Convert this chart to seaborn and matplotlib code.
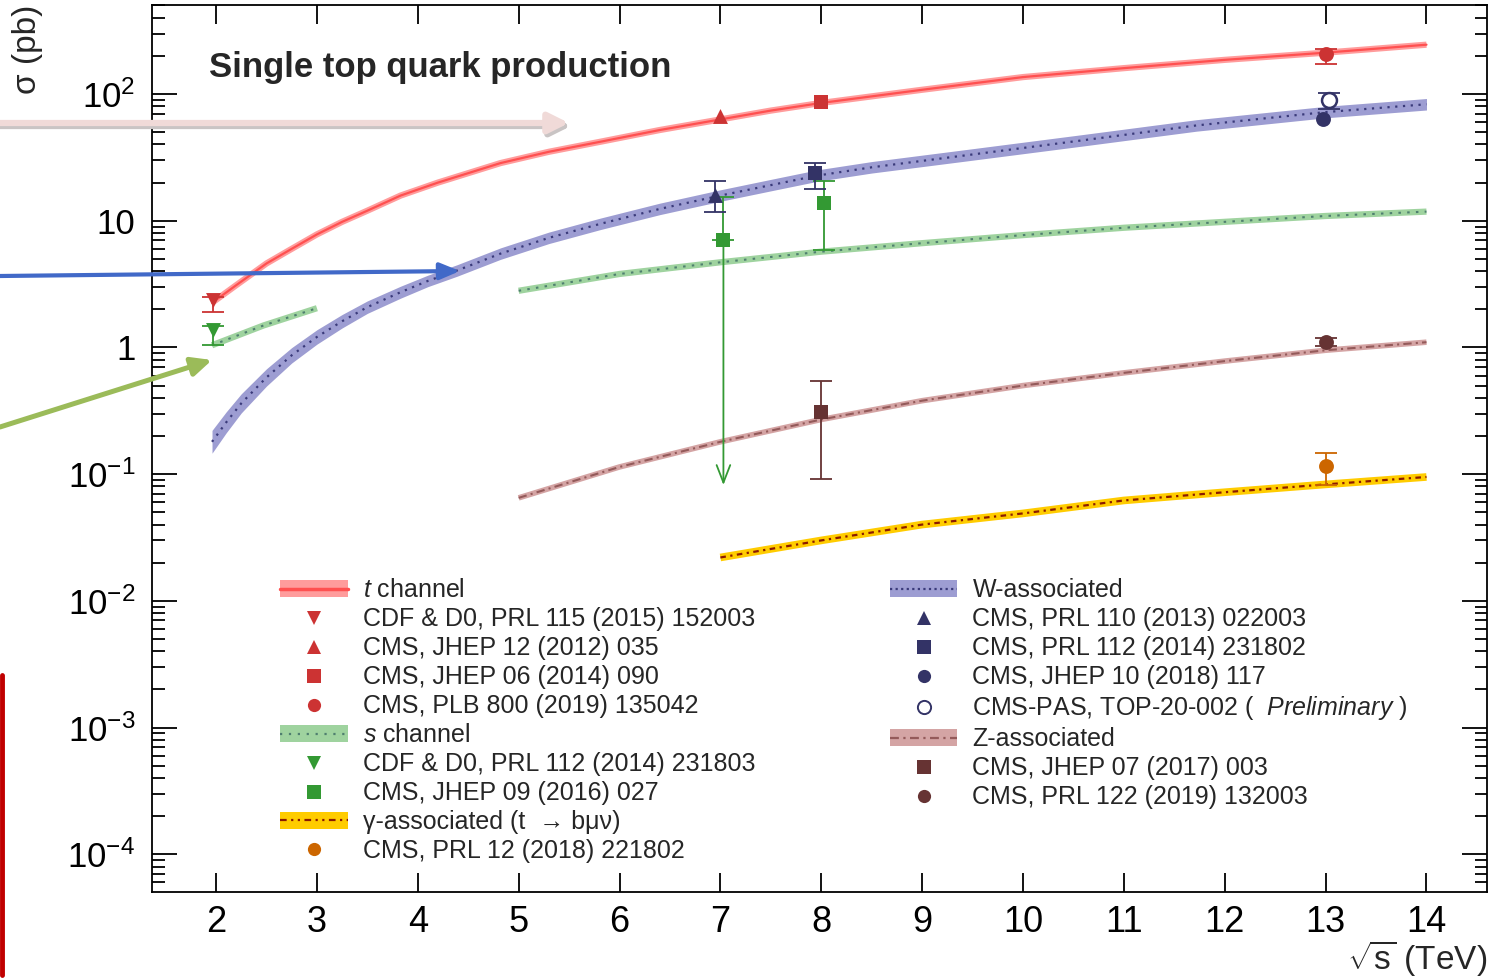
import numpy as np
import pandas as pd
import matplotlib
matplotlib.use("Agg")
import matplotlib.pyplot as plt
import seaborn as sns
from matplotlib.patches import Patch
from matplotlib.lines import Line2D
from matplotlib.ticker import FixedLocator, FixedFormatter, LogLocator, NullFormatter, NullLocator

# ------------------------------------------------------------------ data
# theory curves: sqrt(s) in TeV, cross section in pb
t_sqrts = [1.96, 2.2, 2.5, 2.75, 3.0, 3.25, 3.5, 3.83, 4.2, 4.82, 5.3, 5.81, 6.4, 7.0, 7.5, 8.0,
           9.0, 10.0, 11.0, 12.0, 13.0, 14.0]
t_xsec = [2.25, 3.1, 4.6, 6.0, 7.8, 9.8, 12.0, 15.8, 20.0, 28.5, 35.0, 42.0, 52.0, 63.0, 74.0, 85.0,
          108.0, 136.0, 160.0, 186.0, 212.0, 245.0]

w_sqrts = [1.96, 2.1, 2.25, 2.5, 2.75, 3.0, 3.25, 3.5, 3.83, 4.1, 4.39, 4.82, 5.3, 5.81, 6.4, 7.0,
           7.5, 7.96, 8.5, 9.43, 10.58, 11.72, 13.0, 14.0]
w_xsec = [0.18, 0.256, 0.362, 0.58, 0.867, 1.21, 1.61, 2.08, 2.73, 3.35, 4.05, 5.5, 7.33, 9.45, 12.4, 15.8,
          19.1, 22.7, 26.4, 32.8, 43.0, 56.5, 72.0, 83.0]
w_unc = [0.23, 0.21, 0.19, 0.17, 0.15, 0.14, 0.13, 0.12, 0.115, 0.11, 0.11, 0.11, 0.11, 0.11, 0.11, 0.11,
         0.11, 0.11, 0.11, 0.11, 0.11, 0.11, 0.11, 0.11]

s_sqrts_low = [1.96, 2.47, 3.0]
s_xsec_low = [1.04, 1.49, 2.04]
s_sqrts = [5.0, 6.0, 7.0, 8.0, 9.0, 10.0, 11.0, 12.0, 13.0, 14.0]
s_xsec = [2.8, 3.8, 4.7, 5.7, 6.65, 7.7, 8.8, 9.8, 10.9, 11.8]

z_sqrts = [5.0, 6.0, 7.0, 8.0, 9.0, 10.0, 11.0, 12.0, 13.0, 14.0]
z_xsec = [0.065, 0.114, 0.18, 0.27, 0.38, 0.50, 0.63, 0.78, 0.95, 1.1]

g_sqrts = [7.0, 8.0, 9.0, 10.0, 11.0, 12.0, 13.0, 14.0]
g_xsec = [0.022, 0.030, 0.040, 0.049, 0.062, 0.072, 0.083, 0.095]

# measurements
meas_ref = [
    "CDF & D0, PRL 115 (2015) 152003",
    "CMS, JHEP 12 (2012) 035",
    "CMS, JHEP 06 (2014) 090",
    "CMS, PLB 800 (2019) 135042",
    "CDF & D0, PRL 112 (2014) 231803",
    "CMS, JHEP 09 (2016) 027",
    "CMS, JHEP 09 (2016) 027",
    "CMS, PRL 12 (2018) 221802",
    "CMS, PRL 110 (2013) 022003",
    "CMS, PRL 112 (2014) 231802",
    "CMS, JHEP 10 (2018) 117",
    "CMS-PAS, TOP-20-002 ( Preliminary )",
    "CMS, JHEP 07 (2017) 003",
    "CMS, PRL 122 (2019) 132003",
]
meas_process = ["t", "t", "t", "t", "s", "s", "s", "gamma", "W", "W", "W", "W", "Z", "Z"]
meas_sqrts = [1.97, 7.0, 8.0, 13.0, 1.97, 7.03, 8.03, 13.0, 6.95, 7.94, 12.97, 13.03, 8.0, 13.0]
meas_xsec = [2.35, 67.0, 86.0, 207.0, 1.38, 7.1, 13.8, 0.116, 16.0, 24.0, 63.0, 89.0, 0.31, 1.1]
meas_err_up = [0.15, 0.0, 0.0, 18.0, 0.1, 8.2, 6.9, 0.032, 4.7, 4.7, 0.0, 12.0, 0.23, 0.08]
meas_err_dn = [0.43, 0.0, 0.0, 34.0, 0.34, 7.1, 7.9, 0.034, 4.2, 6.1, 0.0, 12.4, 0.218, 0.08]

ytick_vals = [1e-4, 1e-3, 1e-2, 1e-1, 1, 10, 100]
ytick_labels = [r"$10^{-4}$", r"$10^{-3}$", r"$10^{-2}$", r"$10^{-1}$", "1", "10", r"$10^{2}$"]
xtick_vals = [2, 3, 4, 5, 6, 7, 8, 9, 10, 11, 12, 13, 14]

# ------------------------------------------------------------------ style
sns.set_theme(style="ticks")
plt.rcParams["font.family"] = ["Liberation Sans", "DejaVu Sans"]
plt.rcParams["mathtext.fontset"] = "custom"
plt.rcParams["mathtext.rm"] = "Liberation Sans"
plt.rcParams["mathtext.it"] = "Liberation Sans:italic"
plt.rcParams["mathtext.bf"] = "Liberation Sans:bold"
plt.rcParams["mathtext.sf"] = "Liberation Sans"
plt.rcParams["axes.unicode_minus"] = True

C_T_BAND, C_T_LINE, C_T_MK = "#ff9c9c", "#ff5050", "#cc3333"
C_W_BAND, C_W_LINE, C_W_MK = "#9d9dd2", "#3a3a7a", "#333366"
C_S_BAND, C_S_LINE, C_S_MK = "#9fd39f", "#4f7f6f", "#339933"
C_Z_BAND, C_Z_LINE, C_Z_MK = "#d4a4a4", "#945a5a", "#663333"
C_G_BAND, C_G_LINE, C_G_MK = "#ffcc00", "#8b1a00", "#cc6600"

fig = plt.figure(figsize=(14.99, 9.8), dpi=100)
ax = fig.add_axes([152 / 1499, 1 - 892 / 980, (1487 - 152) / 1499, (892 - 5) / 980])
ax.set_yscale("log")
ax.set_xlim(1.365, 14.6)
ax.set_ylim(5.04e-5, 504)


def band(xs, ys, band_color, band_lw, line_color, line_lw, ls):
    sns.lineplot(x=xs, y=ys, ax=ax, color=band_color, lw=band_lw, zorder=2)
    ax.lines[-1].set_solid_capstyle("butt")
    ax.lines[-1].set_solid_joinstyle("round")
    sns.lineplot(x=xs, y=ys, ax=ax, color=line_color, lw=line_lw, zorder=3)
    ax.lines[-1].set_linestyle(ls)


# W band with width
w_lo = [y / (1 + u) for y, u in zip(w_xsec, w_unc)]
w_hi = [y * (1 + u) for y, u in zip(w_xsec, w_unc)]
ax.fill_between(w_sqrts, w_lo, w_hi, color=C_W_BAND, lw=0, zorder=2)
sns.lineplot(x=w_sqrts, y=w_xsec, ax=ax, color=C_W_LINE, lw=1.6, zorder=3)
ax.lines[-1].set_linestyle((0, (1, 2.5)))

band(t_sqrts, t_xsec, C_T_BAND, 4.5, C_T_LINE, 1.6, "-")
band(s_sqrts_low, s_xsec_low, C_S_BAND, 4.5, C_S_LINE, 1.5, (0, (1.2, 3)))
band(s_sqrts, s_xsec, C_S_BAND, 4.5, C_S_LINE, 1.5, (0, (1.2, 3)))
band(z_sqrts, z_xsec, C_Z_BAND, 4.0, C_Z_LINE, 1.5, (0, (4, 2, 1, 2)))
band(g_sqrts, g_xsec, C_G_BAND, 5.5, C_G_LINE, 1.6, (0, (2.5, 2, 1, 2)))

# ------------------------------------------------------------------ measurements
meas = pd.DataFrame({
    "ref": meas_ref, "process": meas_process, "sqrts": meas_sqrts,
    "xsec": meas_xsec, "up": meas_err_up, "dn": meas_err_dn,
})
marker_of = {
    "CDF & D0, PRL 115 (2015) 152003": ("v", C_T_MK, True),
    "CMS, JHEP 12 (2012) 035": ("^", C_T_MK, True),
    "CMS, JHEP 06 (2014) 090": ("s", C_T_MK, True),
    "CMS, PLB 800 (2019) 135042": ("o", C_T_MK, True),
    "CDF & D0, PRL 112 (2014) 231803": ("v", C_S_MK, True),
    "CMS, JHEP 09 (2016) 027": ("s", C_S_MK, True),
    "CMS, PRL 12 (2018) 221802": ("o", C_G_MK, True),
    "CMS, PRL 110 (2013) 022003": ("^", C_W_MK, True),
    "CMS, PRL 112 (2014) 231802": ("s", C_W_MK, True),
    "CMS, JHEP 10 (2018) 117": ("o", C_W_MK, True),
    "CMS-PAS, TOP-20-002 ( Preliminary )": ("o", C_W_MK, False),
    "CMS, JHEP 07 (2017) 003": ("s", C_Z_MK, True),
    "CMS, PRL 122 (2019) 132003": ("o", C_Z_MK, True),
}
arrow_floor = 0.082
for _, r in meas.iterrows():
    mk, col, filled = marker_of[r["ref"]]
    lo = r["xsec"] - r["dn"]
    if lo <= 0:
        ax.errorbar([r["sqrts"]], [r["xsec"]], yerr=[[0], [r["up"]]], fmt="none",
                    ecolor=col, elinewidth=1.3, capsize=8, capthick=1.3, zorder=4)
        ax.annotate("", xy=(r["sqrts"], arrow_floor), xytext=(r["sqrts"], r["xsec"]),
                    arrowprops=dict(arrowstyle="->,head_length=0.9,head_width=0.35",
                                    color=col, lw=1.3, shrinkA=0, shrinkB=0, mutation_scale=14),
                    zorder=4)
    elif r["up"] > 0 or r["dn"] > 0:
        ax.errorbar([r["sqrts"]], [r["xsec"]], yerr=[[r["dn"]], [r["up"]]], fmt="none",
                    ecolor=col, elinewidth=1.3, capsize=8, capthick=1.3, zorder=4)
    sns.scatterplot(x=[r["sqrts"]], y=[r["xsec"]], ax=ax, marker=mk, s=115,
                    color=col if filled else "white", edgecolor=col,
                    linewidth=0 if filled else 1.8, zorder=5)

# ------------------------------------------------------------------ axes
ax.xaxis.set_major_locator(FixedLocator(xtick_vals))
ax.xaxis.set_major_formatter(FixedFormatter([str(v) for v in xtick_vals]))
ax.xaxis.set_minor_locator(NullLocator())
ax.yaxis.set_major_locator(FixedLocator(ytick_vals))
ax.yaxis.set_major_formatter(FixedFormatter(ytick_labels))
ax.yaxis.set_minor_locator(LogLocator(base=10, subs=np.arange(2, 10), numticks=30))
ax.yaxis.set_minor_formatter(NullFormatter())

ax.tick_params(axis="both", which="both", direction="in", top=True, right=True,
               width=1.3, colors="black")
ax.tick_params(axis="x", which="major", length=14, labelsize=26, pad=9)
ax.tick_params(axis="y", which="major", length=18, labelsize=25, pad=12)
ax.tick_params(axis="y", which="minor", length=9)
for sp in ax.spines.values():
    sp.set_linewidth(1.3)
    sp.set_color("black")

ax.set_xlabel(r"$\sqrt{\mathrm{s}}$ (TeV)", fontsize=24, loc="right")
ax.xaxis.set_label_coords(1.0, -0.052)
ax.xaxis.label.set_va("top")
ax.set_ylabel("σ (pb)", fontsize=24, loc="top")
ax.yaxis.set_label_coords(-0.082, 1.0)

ax.text(0.0427, 0.929, "Single top quark production", transform=ax.transAxes,
        fontsize=25, fontweight="bold", ha="left", va="center")

# ------------------------------------------------------------------ legends
def band_handle(bc, lc, ls, lw=1.6):
    return (Patch(facecolor=bc, edgecolor="none"),
            Line2D([], [], color=lc, lw=lw, linestyle=ls))


def mk_handle(ref):
    mk, col, filled = marker_of[ref]
    return Line2D([], [], ls="none", marker=mk, markersize=9.5,
                  markerfacecolor=col if filled else "white", markeredgecolor=col,
                  markeredgewidth=0 if filled else 1.4)


left_handles = [band_handle(C_T_BAND, C_T_LINE, "-", 2.5)] + \
    [mk_handle(meas_ref[i]) for i in (0, 1, 2, 3)] + \
    [band_handle(C_S_BAND, C_S_LINE, (0, (1, 3)))] + \
    [mk_handle(meas_ref[i]) for i in (4, 5)] + \
    [band_handle(C_G_BAND, C_G_LINE, (0, (3, 2, 1, 2, 1, 2)))] + \
    [mk_handle(meas_ref[7])]
left_labels = [r"$t$ channel", meas_ref[0], meas_ref[1], meas_ref[2], meas_ref[3],
               r"$s$ channel", meas_ref[4], meas_ref[5],
               "γ-associated (t  → bμν)", meas_ref[7]]

right_handles = [band_handle(C_W_BAND, C_W_LINE, (0, (1, 1.5)))] + \
    [mk_handle(meas_ref[i]) for i in (8, 9, 10, 11)] + \
    [band_handle(C_Z_BAND, C_Z_LINE, (0, (4, 2, 1, 2)))] + \
    [mk_handle(meas_ref[i]) for i in (12, 13)]
right_labels = ["W-associated", meas_ref[8], meas_ref[9], meas_ref[10],
                r"CMS-PAS, TOP-20-002 (  $Preliminary$ )",
                "Z-associated", meas_ref[12], meas_ref[13]]

leg_kw = dict(frameon=False, fontsize=18, handlelength=2.7, handleheight=0.65,
              handletextpad=0.6, labelspacing=0.198, borderpad=0, borderaxespad=0,
              loc="upper left")
leg1 = ax.legend(left_handles, left_labels, bbox_to_anchor=(0.0959, 0.3535), **leg_kw)
ax.add_artist(leg1)
leg2 = ax.legend(right_handles, right_labels, bbox_to_anchor=(0.5528, 0.3535), **leg_kw)

# ------------------------------------------------------------------ overlay arrows
def fig_arrow(p0, p1, color, lw, hl, hw, z=10):
    ax.annotate("", xy=p1, xytext=p0, xycoords="figure pixels", textcoords="figure pixels",
                annotation_clip=False,
                arrowprops=dict(arrowstyle=f"-|>,head_length={hl},head_width={hw}", color=color,
                                lw=lw, shrinkA=0, shrinkB=0, mutation_scale=20), zorder=z)


fig_arrow((0, 854), (571, 854), "#c9c4c4", 4.5, 0.6, 0.3, z=9)     # shadow
fig_arrow((0, 857), (569, 857), "#f0dad8", 4.5, 0.6, 0.3)
fig_arrow((0, 704), (460, 709), "#4169c8", 3.0, 0.6, 0.25)
fig_arrow((0, 553), (212, 620), "#9bbb59", 3.6, 0.6, 0.28)
fig.add_artist(Line2D([2 / 1499, 2 / 1499], [1 - 975 / 980, 1 - 675 / 980],
                      transform=fig.transFigure, color="#c00000", lw=3.5))

fig.savefig("out.png", dpi=100, facecolor="white")
